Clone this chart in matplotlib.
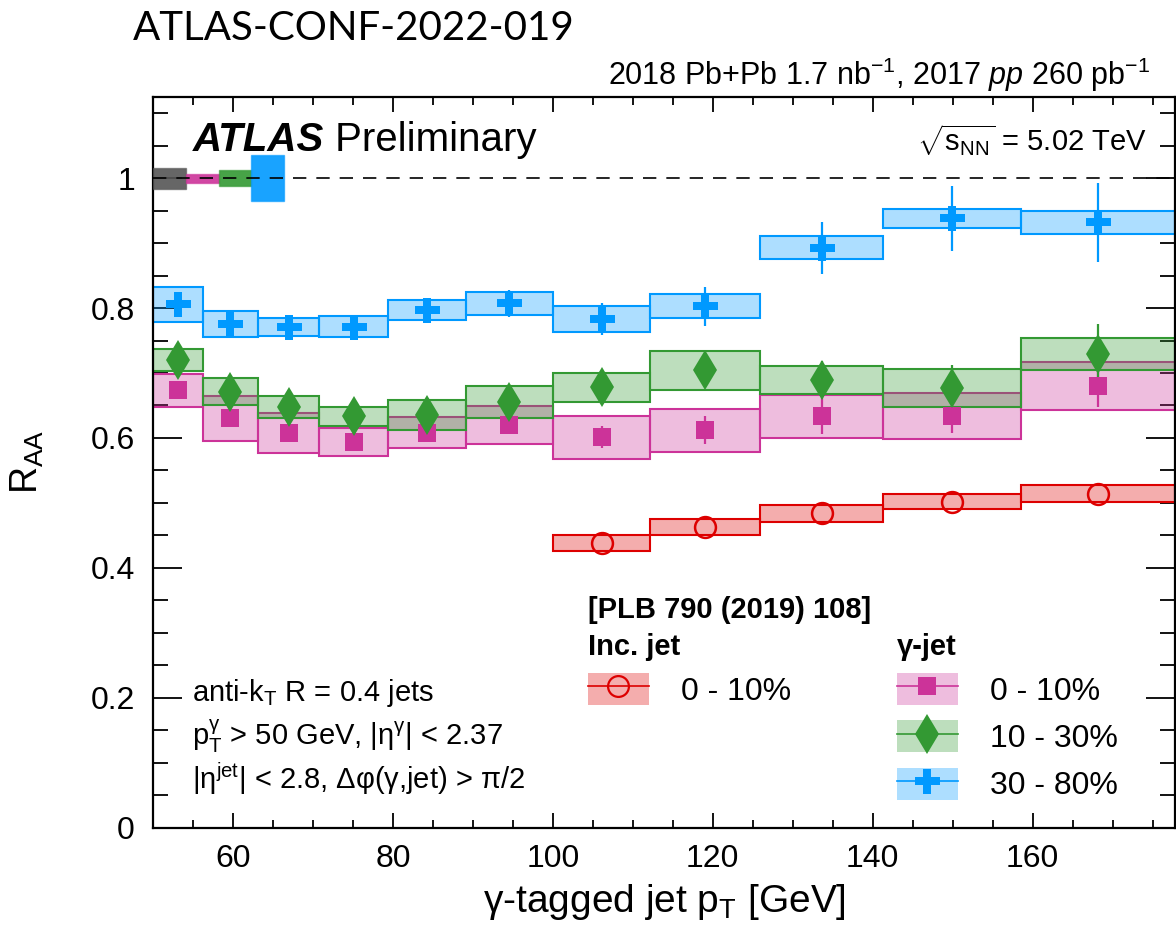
import numpy as np
import matplotlib
matplotlib.use("Agg")
import matplotlib.pyplot as plt
from matplotlib.colors import to_rgba
from matplotlib.patches import Patch
from matplotlib.lines import Line2D
from matplotlib.legend_handler import HandlerTuple
from matplotlib.ticker import MultipleLocator, FuncFormatter

# jet pT bin edges [GeV]
edges = [50.0, 56.2, 63.1, 70.8, 79.4, 89.1, 100.0, 112.2, 125.9, 141.3, 158.5, 177.8]
inc_edges = [100.0, 112.2, 125.9, 141.3, 158.5, 177.8]

# gamma-tagged jet R_AA, 0-10%
c0010_val = [0.673, 0.630, 0.608, 0.594, 0.608, 0.620, 0.601, 0.612, 0.633, 0.634, 0.680]
c0010_sys = [0.025, 0.035, 0.031, 0.022, 0.024, 0.029, 0.033, 0.033, 0.033, 0.035, 0.037]
c0010_stat = [0.008, 0.008, 0.008, 0.008, 0.009, 0.010, 0.017, 0.021, 0.027, 0.027, 0.033]

# gamma-tagged jet R_AA, 10-30%
c1030_val = [0.720, 0.671, 0.647, 0.633, 0.635, 0.655, 0.678, 0.704, 0.689, 0.677, 0.729]
c1030_sys = [0.017, 0.021, 0.017, 0.014, 0.023, 0.025, 0.022, 0.030, 0.022, 0.029, 0.025]
c1030_stat = [0.012, 0.012, 0.012, 0.012, 0.014, 0.016, 0.018, 0.022, 0.029, 0.035, 0.046]

# gamma-tagged jet R_AA, 30-80%
c3080_val = [0.806, 0.776, 0.771, 0.771, 0.797, 0.807, 0.783, 0.803, 0.893, 0.938, 0.932]
c3080_sys = [0.027, 0.020, 0.014, 0.016, 0.016, 0.017, 0.020, 0.019, 0.018, 0.015, 0.018]
c3080_stat = [0.012, 0.010, 0.010, 0.012, 0.015, 0.021, 0.024, 0.030, 0.040, 0.050, 0.061]

# inclusive jet R_AA, 0-10% [PLB 790 (2019) 108] (stat errors hidden by the markers)
inc_val = [0.438, 0.463, 0.484, 0.502, 0.514]
inc_sys = [0.012, 0.012, 0.013, 0.012, 0.013]

# normalisation uncertainties drawn at unity
norm_names = ["pp lumi", "0-10%", "10-30%", "30-80%"]
norm_unc = [0.016, 0.007, 0.012, 0.035]

RED = "#dd0000"
PINK = "#cc3399"
GREEN = "#339933"
BLUE = "#0099ff"
GREY = "#555555"
FILL_ALPHA = 0.32

W, H = 1176, 936


def px(x, y):
	# pixel position in the figure -> figure fraction
	return (x / W, 1 - y / H)


def draw_boxes(ax, bin_edges, val, sys, color):
	lo = np.array(bin_edges[:-1])
	hi = np.array(bin_edges[1:])
	val = np.array(val)
	sys = np.array(sys)
	ax.bar(lo, 2 * sys, width=hi - lo, bottom=val - sys, align="edge",
		facecolor=to_rgba(color, FILL_ALPHA), edgecolor=color, linewidth=1.5, zorder=2)


def bin_centers(bin_edges):
	lo = np.array(bin_edges[:-1])
	hi = np.array(bin_edges[1:])
	return (lo + hi) / 2


def draw_points(ax, bin_edges, val, stat, color, marker, ms):
	ax.errorbar(bin_centers(bin_edges), val, yerr=stat, fmt=marker, color=color, ms=ms,
		mew=0, elinewidth=1.6, capsize=0, zorder=4)


def main():
	plt.rcParams["font.family"] = ["Liberation Sans", "DejaVu Sans"]
	plt.rcParams["mathtext.fontset"] = "custom"
	plt.rcParams["mathtext.rm"] = "Liberation Sans"
	plt.rcParams["mathtext.it"] = "Liberation Sans:italic"
	plt.rcParams["mathtext.bf"] = "Liberation Sans:bold"

	fig = plt.figure(figsize=(W / 100, H / 100), dpi=100)
	ax = fig.add_axes([153 / W, 1 - 827.5 / H, (1175 - 153) / W, (827.5 - 97) / H])

	# systematic boxes
	draw_boxes(ax, inc_edges, inc_val, inc_sys, RED)
	draw_boxes(ax, edges, c0010_val, c0010_sys, PINK)
	draw_boxes(ax, edges, c1030_val, c1030_sys, GREEN)
	draw_boxes(ax, edges, c3080_val, c3080_sys, BLUE)

	# points with stat errors
	ax.plot(bin_centers(inc_edges), inc_val, "o", color=RED, ms=15, mfc="none", mew=1.8, zorder=4)
	draw_points(ax, edges, c0010_val, c0010_stat, PINK, "s", 13)
	draw_points(ax, edges, c1030_val, c1030_stat, GREEN, "d", 20)
	draw_points(ax, edges, c3080_val, c3080_stat, BLUE, "P", 18)

	# normalisation boxes at unity
	norm_colors = [GREY, PINK, GREEN, BLUE]
	norm_width = 4.1
	for i, (unc, col) in enumerate(zip(norm_unc, norm_colors)):
		ax.bar(edges[0] + i * norm_width, 2 * unc, width=norm_width, bottom=1 - unc,
			align="edge", facecolor=to_rgba(col, 0.9), edgecolor=to_rgba(col, 0.6),
			linewidth=1.0, zorder=3)

	ax.axhline(1.0, color="black", lw=1.2, dashes=(8, 6), zorder=5)

	ax.set_xlim(50, 177.8)
	ax.set_ylim(0, 1.125)

	ax.xaxis.set_major_locator(MultipleLocator(20))
	ax.xaxis.set_minor_locator(MultipleLocator(5))
	ax.yaxis.set_major_locator(MultipleLocator(0.2))
	ax.yaxis.set_minor_locator(MultipleLocator(0.05))
	ax.yaxis.set_major_formatter(FuncFormatter(lambda v, p: f"{v:g}"))

	ax.tick_params(which="both", direction="in", top=True, right=True, width=1.3)
	ax.tick_params(axis="x", which="major", length=11, pad=12, labelsize=23)
	ax.tick_params(axis="x", which="minor", length=5.5)
	ax.tick_params(axis="y", which="major", length=21, pad=13, labelsize=23)
	ax.tick_params(axis="y", which="minor", length=10.5)
	for s in ax.spines.values():
		s.set_linewidth(1.6)

	ax.set_xlabel(r"γ-tagged jet p$_\mathrm{T}$ [GeV]", fontsize=28)
	ax.set_ylabel(r"R$_\mathrm{AA}$", fontsize=27)
	ax.xaxis.set_label_coords(0.5, -0.075)
	ax.yaxis.set_label_coords(-0.105, 0.5)

	# header texts
	fig.text(*px(133, 28), "ATLAS-CONF-2022-019", fontsize=29, va="center", ha="left",
		family=["Lato", "DejaVu Sans"])
	fig.text(*px(1150, 75), r"2018 Pb+Pb 1.7 nb$^{-1}$, 2017 $pp$ 260 pb$^{-1}$",
		fontsize=22, ha="right", va="center")
	atlas = fig.text(*px(193, 140), "ATLAS", fontsize=29, weight="bold", style="italic",
		ha="left", va="center")
	ax.annotate(" Preliminary", xy=(1, 0), xycoords=atlas, fontsize=29, va="bottom")
	fig.text(*px(1147, 140), r"$\sqrt{\mathrm{s}_\mathrm{NN}}$ = 5.02 TeV", fontsize=21,
		ha="right", va="center")

	# selection text
	sel = [
		r"anti-k$_\mathrm{T}$ R = 0.4 jets",
		r"p$_\mathrm{T}^\mathrm{γ}$ > 50 GeV, |η$^\mathrm{γ}$| < 2.37",
		r"|η$^\mathrm{jet}$| < 2.8, Δφ(γ,jet) > π/2",
	]
	for i, line in enumerate(sel):
		fig.text(*px(192, 693 + 43 * i), line, fontsize=21, ha="left", va="center")

	# legends
	fig.text(*px(588, 610), "[PLB 790 (2019) 108]", fontsize=21, weight="bold", va="center")
	fig.text(*px(588, 647), "Inc. jet", fontsize=21, weight="bold", va="center")
	fig.text(*px(897, 647), "γ-jet", fontsize=21, weight="bold", va="center")

	def handle(color, marker, ms, hollow=False):
		return (Patch(facecolor=to_rgba(color, FILL_ALPHA), edgecolor="none"),
			Line2D([], [], color=color, lw=1.2, marker=marker, ms=ms,
				mfc="none" if hollow else color, mew=1.6 if hollow else 0))

	leg_kw = dict(handler_map={tuple: HandlerTuple(ndivide=1)}, loc="upper left",
		bbox_transform=fig.transFigure, frameon=False, fontsize=23, handlelength=1.9,
		handleheight=1.15, handletextpad=1.0, labelspacing=0.43, borderpad=0, borderaxespad=0)

	leg1 = ax.legend([handle(RED, "o", 15, hollow=True)], ["0 - 10%"],
		bbox_to_anchor=px(588, 673), **leg_kw)
	ax.add_artist(leg1)
	ax.legend([handle(PINK, "s", 13), handle(GREEN, "d", 20), handle(BLUE, "P", 18)],
		["0 - 10%", "10 - 30%", "30 - 80%"], bbox_to_anchor=px(897, 673), **leg_kw)

	fig.savefig("out.png", dpi=100)


if __name__ == "__main__":
	main()
